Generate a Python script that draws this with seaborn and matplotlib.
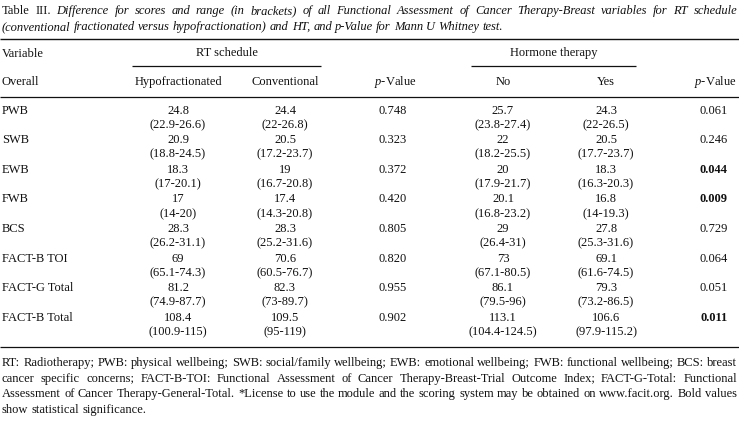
import matplotlib
matplotlib.use("Agg")
import matplotlib.pyplot as plt
import seaborn as sns

# ---------------- data ----------------
variables = ["PWB", "SWB", "EWB", "FWB", "BCS", "FACT-B TOI", "FACT-G Total", "FACT-B Total"]
hypo_score = ["24.8", "20.9", "18.3", "17", "28.3", "69", "81.2", "108.4"]
hypo_range = ["(22.9-26.6)", "(18.8-24.5)", "(17-20.1)", "(14-20)", "(26.2-31.1)", "(65.1-74.3)", "(74.9-87.7)", "(100.9-115)"]
conv_score = ["24.4", "20.5", "19", "17.4", "28.3", "70.6", "82.3", "109.5"]
conv_range = ["(22-26.8)", "(17.2-23.7)", "(16.7-20.8)", "(14.3-20.8)", "(25.2-31.6)", "(60.5-76.7)", "(73-89.7)", "(95-119)"]
rt_pvalue = ["0.748", "0.323", "0.372", "0.420", "0.805", "0.820", "0.955", "0.902"]
no_score = ["25.7", "22", "20", "20.1", "29", "73", "86.1", "113.1"]
no_range = ["(23.8-27.4)", "(18.2-25.5)", "(17.9-21.7)", "(16.8-23.2)", "(26.4-31)", "(67.1-80.5)", "(79.5-96)", "(104.4-124.5)"]
yes_score = ["24.3", "20.5", "18.3", "16.8", "27.8", "69.1", "79.3", "106.6"]
yes_range = ["(22-26.5)", "(17.7-23.7)", "(16.3-20.3)", "(14-19.3)", "(25.3-31.6)", "(61.6-74.5)", "(73.2-86.5)", "(97.9-115.2)"]
ht_pvalue = ["0.061", "0.246", "0.044", "0.009", "0.729", "0.064", "0.051", "0.011"]
ht_bold = [False, False, True, True, False, False, False, True]

title_line1 = "Table III. Difference for scores and range (in brackets) of all Functional Assessment of Cancer Therapy-Breast variables for RT schedule"
title_line2 = "(conventional fractionated versus hypofractionation) and HT, and p-Value for Mann U Whitney test."
footnote_lines = [
    "RT: Radiotherapy; PWB: physical wellbeing; SWB: social/family wellbeing; EWB: emotional wellbeing; FWB: functional wellbeing; BCS: breast",
    "cancer specific concerns; FACT-B-TOI: Functional Assessment of Cancer Therapy-Breast-Trial Outcome Index; FACT-G-Total: Functional",
    "Assessment of Cancer Therapy-General-Total. *License to use the module and the scoring system may be obtained on www.facit.org. Bold values",
    "show statistical significance.",
]

# ---------------- style ----------------
sns.set_theme(style="white")
plt.rcParams["font.family"] = ["Liberation Serif", "DejaVu Serif"]
plt.rcParams["mathtext.fontset"] = "custom"
plt.rcParams["mathtext.rm"] = "Liberation Serif"
plt.rcParams["mathtext.it"] = "Liberation Serif:italic"
plt.rcParams["mathtext.bf"] = "Liberation Serif:bold"

W, H = 739, 429
fig = plt.figure(figsize=(W / 100, H / 100), dpi=100)
ax = fig.add_axes([0, 0, 1, 1])
ax.set_xlim(0, W)
ax.set_ylim(H, 0)
ax.axis("off")
fig.canvas.draw()
renderer = fig.canvas.get_renderer()

FS = 9.0
COL = "#111111"


def text_width(s, **kw):
    t = ax.text(0, 0, s, **kw)
    w = t.get_window_extent(renderer).width
    t.remove()
    return w


def justify(words, y, x0, x1, fs, justify_line=True):
    """words: list of (word, style)"""
    widths = [text_width(w, fontsize=fs, style=st) for w, st in words]
    sp_nat = text_width("a b", fontsize=fs) - text_width("ab", fontsize=fs)
    if justify_line and len(words) > 1:
        sp = (x1 - x0 - sum(widths)) / (len(words) - 1)
    else:
        sp = sp_nat
    x = x0
    for (w, st), wd in zip(words, widths):
        ax.text(x, y, w, fontsize=fs, style=st, va="center", ha="left", color=COL)
        x += wd + sp


# title
words1 = [(w, "normal" if i < 2 else "italic") for i, w in enumerate(title_line1.split())]
justify(words1, 11, 2, 737, FS)
justify([(w, "italic") for w in title_line2.split()], 27, 2, 737, FS, justify_line=False)

# rules
ax.hlines([39], 0, W, color=COL, lw=1.0)
ax.hlines([66], 132, 321, color=COL, lw=0.9)
ax.hlines([66], 471, 636, color=COL, lw=0.9)
ax.hlines([97], 0, W, color=COL, lw=0.9)
ax.hlines([347], 0, W, color=COL, lw=0.9)

# column positions
x_var = 2
x_hypo, x_conv, x_rtp, x_no, x_yes, x_htp = 178, 285, 393, 503, 606, 714

# headers
ax.text(x_var, 54, "Variable", fontsize=FS, va="center", ha="left", color=COL)
ax.text((132 + 321) / 2, 53, "RT schedule", fontsize=FS, va="center", ha="center", color=COL)
ax.text((471 + 636) / 2, 53, "Hormone therapy", fontsize=FS, va="center", ha="center", color=COL)
hy = 82
ax.text(x_var, hy, "Overall", fontsize=FS, va="center", ha="left", color=COL)
ax.text(x_hypo, hy, "Hypofractionated", fontsize=FS, va="center", ha="center", color=COL)
ax.text(x_conv, hy, "Conventional", fontsize=FS, va="center", ha="center", color=COL)
ax.text(x_rtp + 2, hy, r"$\it{p}$-Value", fontsize=FS, va="center", ha="center", color=COL)
ax.text(x_no, hy, "No", fontsize=FS, va="center", ha="center", color=COL)
ax.text(x_yes, hy, "Yes", fontsize=FS, va="center", ha="center", color=COL)
ax.text(737, hy, r"$\it{p}$-Value", fontsize=FS, va="center", ha="right", color=COL)

# body
for i, v in enumerate(variables):
    y = 110.5 + 29.6 * i
    y2 = y + 14.6
    ax.text(x_var, y, v, fontsize=FS, va="center", ha="left", color=COL)
    ax.text(x_hypo, y, hypo_score[i], fontsize=FS, va="center", ha="center", color=COL)
    ax.text(x_hypo, y2, hypo_range[i], fontsize=FS, va="center", ha="center", color=COL)
    ax.text(x_conv, y, conv_score[i], fontsize=FS, va="center", ha="center", color=COL)
    ax.text(x_conv, y2, conv_range[i], fontsize=FS, va="center", ha="center", color=COL)
    ax.text(x_rtp, y, rt_pvalue[i], fontsize=FS, va="center", ha="center", color=COL)
    ax.text(x_no, y, no_score[i], fontsize=FS, va="center", ha="center", color=COL)
    ax.text(x_no, y2, no_range[i], fontsize=FS, va="center", ha="center", color=COL)
    ax.text(x_yes, y, yes_score[i], fontsize=FS, va="center", ha="center", color=COL)
    ax.text(x_yes, y2, yes_range[i], fontsize=FS, va="center", ha="center", color=COL)
    ax.text(x_htp, y, ht_pvalue[i], fontsize=FS, va="center", ha="center", color=COL,
            fontweight="bold" if ht_bold[i] else "normal")

# footnote
for k, line in enumerate(footnote_lines):
    last = k == len(footnote_lines) - 1
    justify([(w, "normal") for w in line.split()], 363 + 15.7 * k, 2, 737, FS, justify_line=not last)

fig.savefig("out.png", dpi=100)
